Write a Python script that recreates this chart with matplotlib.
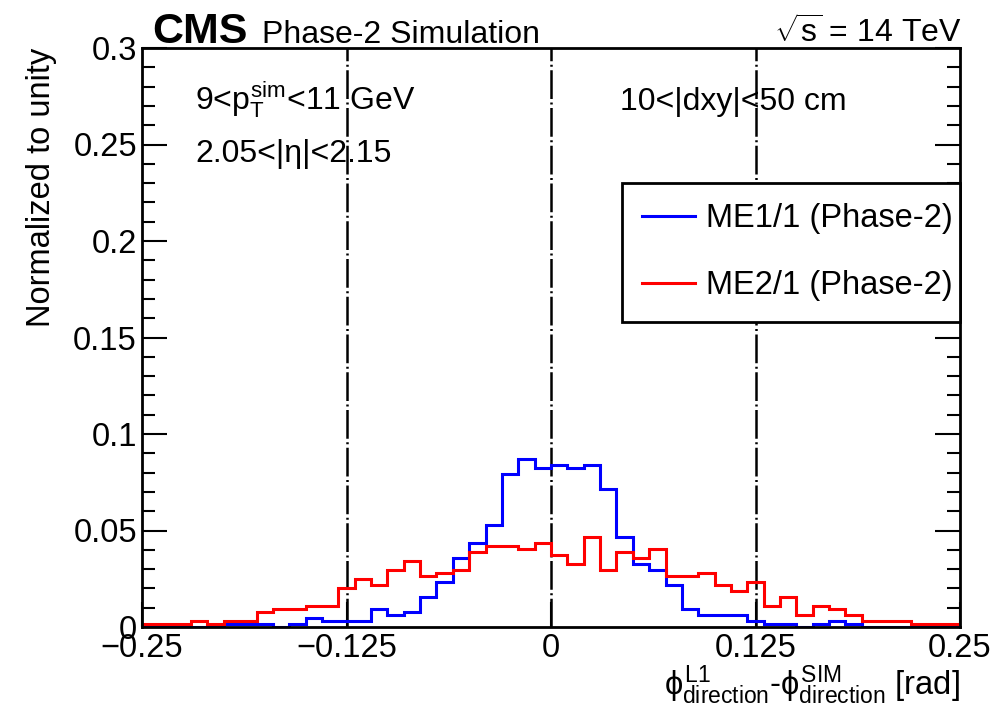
import numpy as np
import matplotlib.pyplot as plt
from matplotlib.ticker import MultipleLocator

plt.rcParams['font.family'] = ['Liberation Sans', 'DejaVu Sans']
plt.rcParams['mathtext.fontset'] = 'custom'
plt.rcParams['mathtext.rm'] = 'Liberation Sans'
plt.rcParams['mathtext.it'] = 'Liberation Sans'
plt.rcParams['mathtext.bf'] = 'Liberation Sans:bold'
plt.rcParams['mathtext.sf'] = 'Liberation Sans'

# 50 bins of 0.01 rad between -0.25 and 0.25
edges = np.linspace(-0.25, 0.25, 51)

me11 = [0, 0, 0, 0, 0,
        0.0017, 0.0017, 0.0017, 0, 0.0017,
        0.0045, 0.003, 0.003, 0.003, 0.0092,
        0.0062, 0.0078, 0.0155, 0.0233, 0.0358,
        0.0435, 0.0528, 0.0793, 0.087, 0.0822,
        0.0839, 0.0822, 0.0839, 0.0715, 0.0466,
        0.0326, 0.0295, 0.0218, 0.0093, 0.0064,
        0.0064, 0.0064, 0.0031, 0.0017, 0.0017,
        0, 0.0017, 0.0031, 0.0017, 0,
        0, 0, 0, 0, 0]

me21 = [0.0015, 0.0015, 0.0015, 0.003, 0.0015,
        0.003, 0.003, 0.0076, 0.0093, 0.0093,
        0.011, 0.011, 0.0202, 0.0249, 0.0218,
        0.0295, 0.0342, 0.0264, 0.0278, 0.0295,
        0.0389, 0.042, 0.042, 0.0404, 0.0433,
        0.0373, 0.0326, 0.0466, 0.0295, 0.0389,
        0.0358, 0.0404, 0.0264, 0.0264, 0.028,
        0.0218, 0.0187, 0.0233, 0.011, 0.0157,
        0.0064, 0.011, 0.0095, 0.0064, 0.0031,
        0.0031, 0.0031, 0.0017, 0.0017, 0.0017]

cut_lines = [-0.125, 0.0, 0.125]
xticks = [-0.25, -0.125, 0.0, 0.125, 0.25]
xtick_labels = ['\u22120.25', '\u22120.125', '0', '0.125', '0.25']
yticks = [0, 0.05, 0.1, 0.15, 0.2, 0.25, 0.3]
ytick_labels = ['0', '0.05', '0.1', '0.15', '0.2', '0.25', '0.3']

fig = plt.figure(figsize=(9.96, 7.14), dpi=100)
ax = fig.add_axes([142 / 996, 87 / 714, 818 / 996, 579 / 714])

for x in cut_lines:
    ax.axvline(x, color='black', lw=1.8, zorder=1.5,
               ls=(0, (11.5, 1.4, 0.8, 1.4)))

ax.stairs(me11, edges, color='blue', lw=2.2, zorder=2,
          label='ME1/1 (Phase-2)')
ax.stairs(me21, edges, color='red', lw=2.2, zorder=2.1,
          label='ME2/1 (Phase-2)')

ax.set_xlim(-0.25, 0.25)
ax.set_ylim(0, 0.3)

for sp in ax.spines.values():
    sp.set_linewidth(2.0)
    sp.set_zorder(3)

ax.set_xticks(xticks)
ax.set_xticklabels(xtick_labels)
ax.set_yticks(yticks)
ax.set_yticklabels(ytick_labels)
ax.yaxis.set_minor_locator(MultipleLocator(0.01))

ax.tick_params(axis='y', which='both', direction='in', left=True, right=True,
               width=1.5, labelsize=23.5, pad=3.6)
ax.tick_params(axis='y', which='major', length=18)
ax.tick_params(axis='y', which='minor', length=9.5)
ax.tick_params(axis='x', which='major', direction='in', length=18, width=1.5,
               labelsize=23.5, pad=4.5, top=False)

ax.set_ylabel('Normalized to unity', fontsize=23.5, loc='top')
ax.yaxis.set_label_coords(-0.104, 1.0)

ax.text(1.0, -0.1174,
        r'$\phi^{L1}_{direction}$-$\phi^{SIM}_{direction}$ [rad]',
        transform=ax.transAxes, ha='right', va='baseline', fontsize=23.5)

# header
fig.text(152 / 996, 1 - 43 / 714, 'CMS', fontsize=31, fontweight='bold',
         ha='left', va='baseline')
fig.text(262 / 996, 1 - 43 / 714, 'Phase-2 Simulation', fontsize=23,
         ha='left', va='baseline')
fig.text(962 / 996, 1 - 43 / 714, r'$\sqrt{s}$ = 14 TeV', fontsize=23,
         ha='right', va='baseline')

# selection labels
ax.text(0.0648, 0.893, r'9<$p^{sim}_{T}$<11 GeV', transform=ax.transAxes,
        fontsize=23, ha='left', va='baseline')
ax.text(0.0648, 0.803, '2.05<|\u03b7|<2.15', transform=ax.transAxes,
        fontsize=23, ha='left', va='baseline')
ax.text(0.584, 0.893, '10<|dxy|<50 cm', transform=ax.transAxes,
        fontsize=23, ha='left', va='baseline')

leg = ax.legend(loc='upper left', bbox_to_anchor=(0.587, 0.504, 0.413, 0.2625),
                mode='expand', borderaxespad=0, borderpad=0.62,
                handlelength=1.6, handletextpad=0.34, labelspacing=1.1,
                fontsize=23.5, fancybox=False, framealpha=1,
                edgecolor='black')
leg.get_frame().set_linewidth(2.0)
leg.set_zorder(4)

fig.savefig('out.png', dpi=100)
